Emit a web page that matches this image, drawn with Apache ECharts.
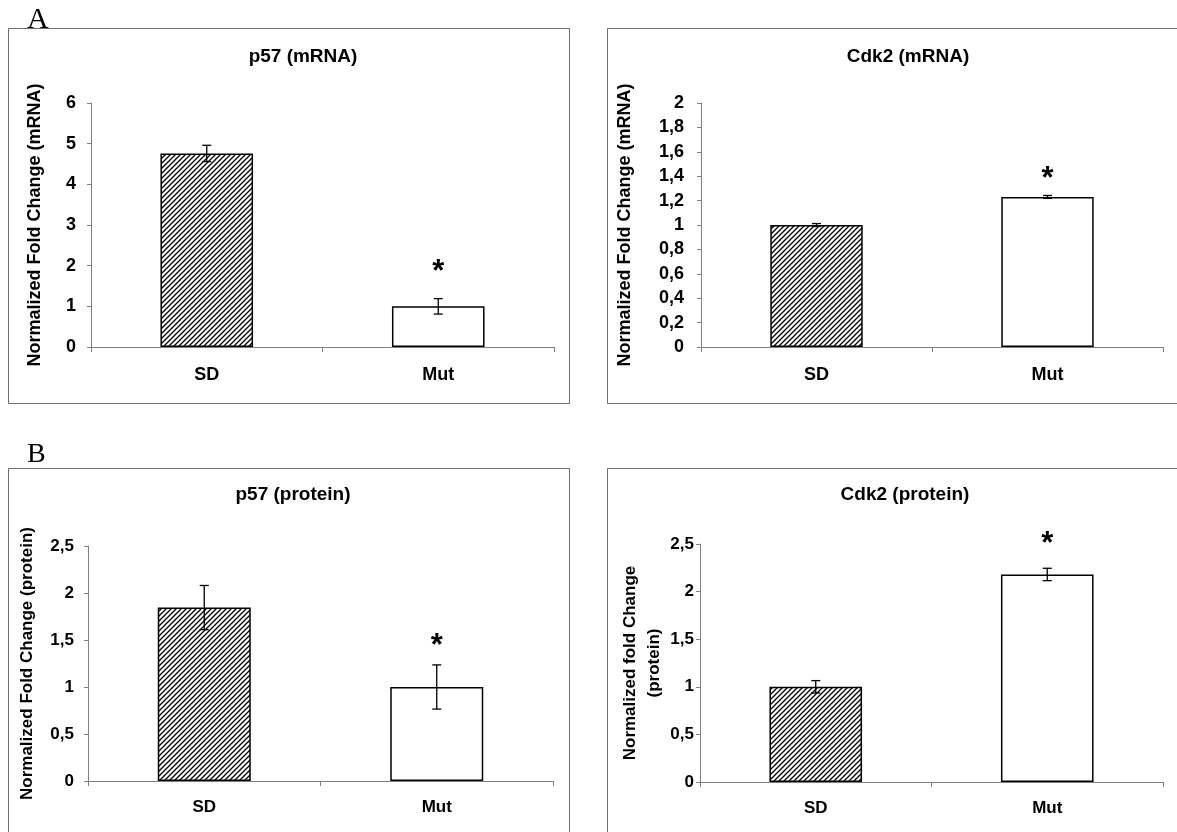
<!DOCTYPE html>
<html>
<head>
<meta charset="utf-8">
<script src="https://cdn.jsdelivr.net/npm/echarts@6/dist/echarts.min.js"></script>
<style>
  html, body { margin: 0; padding: 0; background: #fff; }
  #chart { width: 1177px; height: 832px; }
</style>
</head>
<body>
<div id="chart"></div>
<script>
// Group labels shared by all four panels
const categories = ['SD', 'Mut'];

// Mean fold change and error (SEM) per group
const p57Mrna = [4.76, 1.0];
const p57MrnaErr = [0.2, 0.19];
const cdk2Mrna = [1.0, 1.23];
const cdk2MrnaErr = [0.012, 0.012];
const p57Protein = [1.845, 1.0];
const p57ProteinErr = [0.235, 0.235];
const cdk2Protein = [1.0, 2.18];
const cdk2ProteinErr = [0.065, 0.065];

// Significance marks per group
const significance = ['', '*'];

// Value-axis tick labels (comma decimals)
const p57MrnaTicks = ['0', '1', '2', '3', '4', '5', '6'];
const cdk2MrnaTicks = ['0', '0,2', '0,4', '0,6', '0,8', '1', '1,2', '1,4', '1,6', '1,8', '2'];
const p57ProteinTicks = ['0', '0,5', '1', '1,5', '2', '2,5'];
const cdk2ProteinTicks = ['0', '0,5', '1', '1,5', '2', '2,5'];

const FONT = '"Liberation Sans", Arial, Helvetica, sans-serif';
const AXIS_GREY = '#808080';
const FRAME_GREY = '#6e6e6e';

// Diagonal hatch tile for the SD bars
function makeHatch() {
  const s = 5;
  const c = document.createElement('canvas');
  c.width = s; c.height = s;
  const ctx = c.getContext('2d');
  ctx.fillStyle = '#fff';
  ctx.fillRect(0, 0, s, s);
  ctx.strokeStyle = '#000';
  ctx.lineWidth = 1.3;
  ctx.beginPath();
  ctx.moveTo(-1, s + 1); ctx.lineTo(s + 1, -1);
  ctx.moveTo(-1, 1); ctx.lineTo(1, -1);
  ctx.moveTo(s - 1, s + 1); ctx.lineTo(s + 1, s - 1);
  ctx.stroke();
  return c;
}
const hatch = { image: makeHatch(), repeat: 'repeat' };
const barFills = [hatch, '#ffffff'];

const panels = [
  {
    title: 'p57 (mRNA)', titleX: 303, titleY: 57,
    grid: { left: 91, top: 103, width: 463, height: 244 },
    max: 6, interval: 1, ticks: p57MrnaTicks,
    yName: 'Normalized Fold Change (mRNA)', nameGap: 44,
    labelMargin: 15, fontSize: 18, nameSize: 18, catMargin: 19,
    values: p57Mrna, errs: p57MrnaErr, starGap: 33
  },
  {
    title: 'Cdk2 (mRNA)', titleX: 908, titleY: 57,
    grid: { left: 701, top: 103, width: 462, height: 244 },
    max: 2, interval: 0.2, ticks: cdk2MrnaTicks,
    yName: 'Normalized Fold Change (mRNA)', nameGap: 64,
    labelMargin: 17, fontSize: 18, nameSize: 18, catMargin: 19,
    values: cdk2Mrna, errs: cdk2MrnaErr, starGap: 23
  },
  {
    title: 'p57 (protein)', titleX: 293, titleY: 495,
    grid: { left: 88, top: 546, width: 465, height: 235 },
    max: 2.5, interval: 0.5, ticks: p57ProteinTicks,
    yName: 'Normalized Fold Change (protein)', nameGap: 49,
    labelMargin: 14, fontSize: 17, nameSize: 17, catMargin: 18,
    values: p57Protein, errs: p57ProteinErr, starGap: 25
  },
  {
    title: 'Cdk2 (protein)', titleX: 905, titleY: 495,
    grid: { left: 700, top: 544, width: 463, height: 238 },
    max: 2.5, interval: 0.5, ticks: cdk2ProteinTicks,
    yName: 'Normalized fold Change\n(protein)', nameGap: 31,
    labelMargin: 6, fontSize: 17, nameSize: 17, catMargin: 18,
    values: cdk2Protein, errs: cdk2ProteinErr, starGap: 31
  }
];

function errorBarRenderer(errs, starGap) {
  return function (params, api) {
    const idx = params.dataIndex;
    const x = api.value(0);
    const v = api.value(1);
    const e = errs[idx];
    const top = api.coord([x, v + e]);
    const bot = api.coord([x, v - e]);
    const cap = 4.5;
    const ls = { stroke: '#000', lineWidth: 1.3 };
    const children = [
      { type: 'line', shape: { x1: top[0], y1: top[1], x2: bot[0], y2: bot[1] }, style: ls },
      { type: 'line', shape: { x1: top[0] - cap, y1: top[1], x2: top[0] + cap, y2: top[1] }, style: ls },
      { type: 'line', shape: { x1: bot[0] - cap, y1: bot[1], x2: bot[0] + cap, y2: bot[1] }, style: ls }
    ];
    if (significance[idx]) {
      const size = 31;
      children.push({
        type: 'text',
        x: top[0],
        y: top[1] - starGap + 0.22 * size,
        style: {
          text: significance[idx],
          font: 'bold ' + size + 'px ' + FONT,
          fill: '#000',
          align: 'center',
          verticalAlign: 'middle'
        }
      });
    }
    return { type: 'group', children: children };
  };
}

const option = {
  backgroundColor: '#ffffff',
  animation: false,
  grid: panels.map(p => Object.assign({ containLabel: false }, p.grid)),
  xAxis: panels.map((p, i) => ({
    type: 'category',
    gridIndex: i,
    data: categories,
    boundaryGap: true,
    axisLine: { show: true, lineStyle: { color: AXIS_GREY, width: 1 } },
    axisTick: { show: true, length: 5, alignWithLabel: false, lineStyle: { color: AXIS_GREY } },
    axisLabel: {
      color: '#000', fontFamily: FONT, fontWeight: 'bold',
      fontSize: p.fontSize, margin: p.catMargin
    },
    splitLine: { show: false }
  })),
  yAxis: panels.map((p, i) => ({
    type: 'value',
    gridIndex: i,
    min: 0,
    max: p.max,
    interval: p.interval,
    name: p.yName,
    nameLocation: 'middle',
    nameRotate: 90,
    nameGap: p.nameGap,
    nameTextStyle: {
      color: '#000', fontFamily: FONT, fontWeight: 'bold',
      fontSize: p.nameSize, lineHeight: 24
    },
    axisLine: { show: true, lineStyle: { color: AXIS_GREY, width: 1 } },
    axisTick: { show: true, length: 4, inside: false, lineStyle: { color: AXIS_GREY } },
    axisLabel: {
      color: '#000', fontFamily: FONT, fontWeight: 'bold',
      fontSize: p.fontSize, margin: p.labelMargin,
      formatter: (val, k) => p.ticks[k]
    },
    splitLine: { show: false }
  })),
  series: [].concat(...panels.map((p, i) => [
    {
      type: 'bar',
      xAxisIndex: i,
      yAxisIndex: i,
      barWidth: '40%',
      data: p.values.map((v, k) => ({
        value: v,
        itemStyle: { color: barFills[k], borderColor: '#000', borderWidth: 1.5 }
      })),
      z: 2
    },
    {
      type: 'custom',
      xAxisIndex: i,
      yAxisIndex: i,
      renderItem: errorBarRenderer(p.errs, p.starGap),
      data: p.values.map((v, k) => [k, v]),
      z: 5,
      clip: false
    }
  ])),
  graphic: [
    // panel frames
    { type: 'rect', shape: { x: 8.5, y: 28.5, width: 561, height: 375 },
      style: { fill: 'none', stroke: FRAME_GREY, lineWidth: 1 }, z: -1 },
    { type: 'polyline', shape: { points: [[1190, 28.5], [607.5, 28.5], [607.5, 403.5], [1190, 403.5]] },
      style: { fill: 'none', stroke: FRAME_GREY, lineWidth: 1 }, z: -1 },
    { type: 'polyline', shape: { points: [[8.5, 850], [8.5, 468.5], [569.5, 468.5], [569.5, 850]] },
      style: { fill: 'none', stroke: FRAME_GREY, lineWidth: 1 }, z: -1 },
    { type: 'polyline', shape: { points: [[607.5, 850], [607.5, 468.5], [1190, 468.5]] },
      style: { fill: 'none', stroke: FRAME_GREY, lineWidth: 1 }, z: -1 },
    // figure part letters
    { type: 'text', x: 27, y: 20, style: { text: 'A', font: '30px "Liberation Serif", "Times New Roman", serif',
      fill: '#000', align: 'left', verticalAlign: 'middle' }, z: 10 },
    { type: 'text', x: 27, y: 455, style: { text: 'B', font: '28px "Liberation Serif", "Times New Roman", serif',
      fill: '#000', align: 'left', verticalAlign: 'middle' }, z: 10 }
  ].concat(panels.map(p => ({
    type: 'text', x: p.titleX, y: p.titleY,
    style: { text: p.title, font: 'bold 19px ' + FONT, fill: '#000', align: 'center', verticalAlign: 'middle' },
    z: 10
  })))
};

const chart = echarts.init(document.getElementById('chart'), null, { renderer: 'canvas' });
chart.setOption(option);
</script>
</body>
</html>
